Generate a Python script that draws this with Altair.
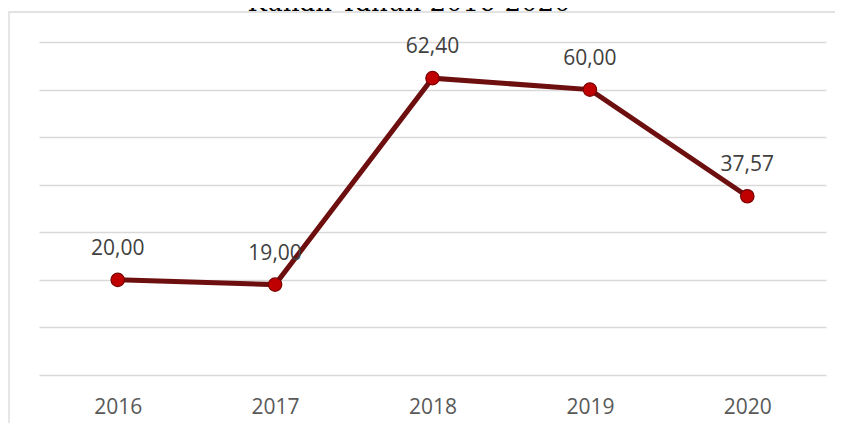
import altair as alt
import pandas as pd

years = ["2016", "2017", "2018", "2019", "2020"]
values = [20.00, 19.00, 62.40, 60.00, 37.57]
title_text = "Kuliah Tahun 2016-2020"
y_ticks = [0, 10, 20, 30, 40, 50, 60, 70]

df = pd.DataFrame({"year": years, "value": values})

W, H = 787, 333

x_enc = alt.X(
    "year:O", sort=years,
    scale=alt.Scale(type="point", padding=0.5),
    axis=alt.Axis(title=None, domain=False, ticks=False, tickSize=0, labelPadding=32,
                  labelBaseline="middle", labelFont="Open Sans", labelFontSize=21,
                  labelColor="#595959", labelAngle=0, grid=False),
)
y_enc = alt.Y(
    "value:Q",
    scale=alt.Scale(domain=[0, 70], nice=False, zero=True),
    axis=alt.Axis(title=None, values=y_ticks, grid=True, gridColor="#d9d9d9", gridWidth=1.3,
                  labels=False, ticks=False, domain=False),
)

frame = alt.Chart(pd.DataFrame({"k": [0]})).mark_rect(
    fillOpacity=0, stroke="#d9d9d9", strokeWidth=1.3
).encode(x=alt.value(-30), x2=alt.value(W + 60), y=alt.value(-30), y2=alt.value(H + 120))

base = alt.Chart(df)
line = base.mark_line(color="#6e0f0f", strokeWidth=5).encode(x=x_enc, y=y_enc)
points = base.mark_circle(size=180, color="#c00000", stroke="#7a0000", strokeWidth=1.2, opacity=1).encode(
    x=alt.X("year:O", sort=years), y="value:Q")
labels = base.transform_calculate(
    label="replace(format(datum.value, '.2f'), '.', ',')"
).mark_text(dy=-31, baseline="middle", font="Open Sans", fontSize=21, color="#404040").encode(
    x=alt.X("year:O", sort=years), y="value:Q", text="label:N")

title = alt.Chart(pd.DataFrame({"t": [title_text]})).mark_text(
    font="DejaVu Serif", fontSize=26, baseline="alphabetic", align="center", color="#000000"
).encode(x=alt.value(370), y=alt.value(-31), text="t:N")

chart = alt.layer(frame, line, points, labels, title).properties(
    width=W, height=H,
    padding={"left": 31, "top": 34, "right": 9, "bottom": 48},
    autosize=alt.AutoSizeParams(type="none"),
).configure_view(stroke="transparent")

chart.save("out.html", embed_options={"renderer": "svg", "actions": False})
